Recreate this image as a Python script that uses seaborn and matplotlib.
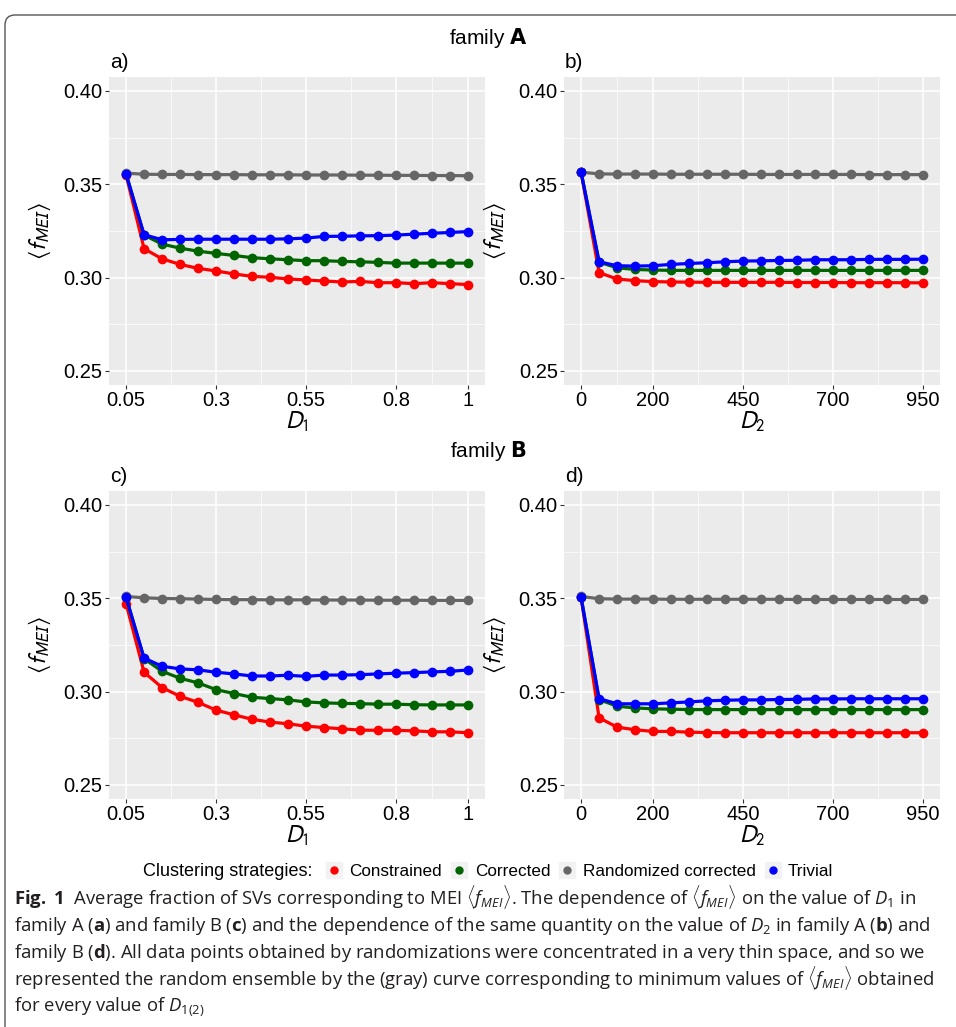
import pandas as pd
import matplotlib
matplotlib.use("Agg")
import matplotlib.pyplot as plt
import seaborn as sns
from matplotlib.lines import Line2D
from matplotlib.patches import FancyBboxPatch
from matplotlib.legend_handler import HandlerTuple
from matplotlib.transforms import IdentityTransform

# x values
d1 = [0.05, 0.10, 0.15, 0.20, 0.25, 0.30, 0.35, 0.40, 0.45, 0.50,
      0.55, 0.60, 0.65, 0.70, 0.75, 0.80, 0.85, 0.90, 0.95, 1.00]
d2 = [0, 50, 100, 150, 200, 250, 300, 350, 400, 450,
      500, 550, 600, 650, 700, 750, 800, 850, 900, 950]

# family A, vs D1
a_constrained = [0.3550, 0.3155, 0.3101, 0.3071, 0.3050, 0.3036, 0.3020, 0.3007, 0.3002, 0.2993,
                 0.2988, 0.2982, 0.2977, 0.2980, 0.2973, 0.2973, 0.2968, 0.2973, 0.2968, 0.2963]
a_corrected = [0.3555, 0.3228, 0.3180, 0.3158, 0.3142, 0.3130, 0.3119, 0.3107, 0.3101, 0.3096,
               0.3091, 0.3091, 0.3087, 0.3085, 0.3082, 0.3078, 0.3078, 0.3078, 0.3078, 0.3078]
a_random = [0.3560, 0.3554, 0.3553, 0.3553, 0.3552, 0.3552, 0.3552, 0.3551, 0.3551, 0.3551,
            0.3550, 0.3550, 0.3550, 0.3549, 0.3549, 0.3548, 0.3548, 0.3547, 0.3547, 0.3546]
a_trivial = [0.3555, 0.3230, 0.3203, 0.3205, 0.3206, 0.3206, 0.3206, 0.3206, 0.3206, 0.3208,
             0.3212, 0.3221, 0.3222, 0.3224, 0.3225, 0.3228, 0.3233, 0.3238, 0.3242, 0.3247]

# family A, vs D2
b_constrained = [0.3565, 0.3027, 0.2993, 0.2984, 0.2979, 0.2977, 0.2976, 0.2975, 0.2975, 0.2975,
                 0.2975, 0.2975, 0.2974, 0.2974, 0.2974, 0.2973, 0.2973, 0.2973, 0.2973, 0.2972]
b_corrected = [0.3565, 0.3083, 0.3053, 0.3044, 0.3041, 0.3039, 0.3039, 0.3039, 0.3039, 0.3039,
               0.3039, 0.3039, 0.3039, 0.3039, 0.3039, 0.3039, 0.3039, 0.3039, 0.3039, 0.3039]
b_random = [0.3565, 0.3556, 0.3555, 0.3555, 0.3555, 0.3554, 0.3554, 0.3554, 0.3554, 0.3554,
            0.3553, 0.3553, 0.3553, 0.3553, 0.3553, 0.3553, 0.3552, 0.3552, 0.3552, 0.3552]
b_trivial = [0.3565, 0.3085, 0.3064, 0.3062, 0.3064, 0.3071, 0.3076, 0.3080, 0.3085, 0.3089,
             0.3090, 0.3092, 0.3093, 0.3096, 0.3096, 0.3096, 0.3098, 0.3098, 0.3098, 0.3099]

# family B, vs D1
c_constrained = [0.3471, 0.3104, 0.3022, 0.2975, 0.2943, 0.2901, 0.2876, 0.2852, 0.2837, 0.2828,
                 0.2815, 0.2808, 0.2801, 0.2794, 0.2793, 0.2793, 0.2790, 0.2785, 0.2785, 0.2780]
c_corrected = [0.3505, 0.3177, 0.3109, 0.3072, 0.3047, 0.3011, 0.2990, 0.2970, 0.2963, 0.2956,
               0.2945, 0.2940, 0.2937, 0.2936, 0.2933, 0.2933, 0.2930, 0.2929, 0.2929, 0.2929]
c_random = [0.3510, 0.3503, 0.3499, 0.3498, 0.3496, 0.3494, 0.3493, 0.3493, 0.3492, 0.3492,
            0.3492, 0.3491, 0.3491, 0.3491, 0.3490, 0.3490, 0.3490, 0.3489, 0.3489, 0.3489]
c_trivial = [0.3505, 0.3180, 0.3136, 0.3122, 0.3117, 0.3104, 0.3095, 0.3084, 0.3084, 0.3088,
             0.3082, 0.3089, 0.3089, 0.3091, 0.3095, 0.3099, 0.3102, 0.3106, 0.3109, 0.3116]

# family B, vs D2
d_constrained = [0.3505, 0.2860, 0.2810, 0.2796, 0.2787, 0.2787, 0.2783, 0.2781, 0.2780, 0.2780,
                 0.2780, 0.2780, 0.2780, 0.2780, 0.2780, 0.2780, 0.2780, 0.2780, 0.2780, 0.2780]
d_corrected = [0.3505, 0.2958, 0.2922, 0.2913, 0.2908, 0.2906, 0.2904, 0.2904, 0.2904, 0.2904,
               0.2904, 0.2904, 0.2904, 0.2904, 0.2904, 0.2904, 0.2904, 0.2904, 0.2904, 0.2904]
d_random = [0.3510, 0.3498, 0.3496, 0.3496, 0.3496, 0.3495, 0.3495, 0.3495, 0.3495, 0.3495,
            0.3495, 0.3495, 0.3494, 0.3494, 0.3494, 0.3494, 0.3494, 0.3494, 0.3494, 0.3494]
d_trivial = [0.3505, 0.2963, 0.2935, 0.2935, 0.2935, 0.2940, 0.2945, 0.2951, 0.2954, 0.2956,
             0.2956, 0.2958, 0.2959, 0.2961, 0.2961, 0.2962, 0.2962, 0.2962, 0.2962, 0.2962]

strategies = ["Constrained", "Corrected", "Randomized corrected", "Trivial"]
colors = ["#FF0000", "#006400", "#666666", "#0000FF"]

y_ticks = [0.25, 0.30, 0.35, 0.40]
y_ticklabels = ["0.25", "0.30", "0.35", "0.40"]
d1_ticks = [0.05, 0.3, 0.55, 0.8, 1.0]
d1_ticklabels = ["0.05", "0.3", "0.55", "0.8", "1"]
d2_ticks = [0, 200, 450, 700, 950]
d2_ticklabels = ["0", "200", "450", "700", "950"]

W, H = 956, 1027
plt.rcParams["font.family"] = ["Liberation Sans", "DejaVu Sans"]
plt.rcParams["mathtext.fontset"] = "custom"
plt.rcParams["mathtext.rm"] = "Open Sans"
plt.rcParams["mathtext.it"] = "Open Sans:italic"
plt.rcParams["mathtext.bf"] = "Open Sans:bold"

fig = plt.figure(figsize=(W / 100, H / 100), dpi=100)


def make_ax(left, top, right, bottom):
    return fig.add_axes([left / W, 1 - bottom / H, (right - left) / W, (bottom - top) / H])


def panel(ax, x, series, xticks, xticklabels, xlabel, xlim, minor_x):
    df = pd.DataFrame({"x": x * 4,
                       "value": sum(series, []),
                       "strategy": [s for s in strategies for _ in x]})
    sns.lineplot(data=df, x="x", y="value", hue="strategy", hue_order=strategies,
                 palette=colors, marker="o", markersize=7, markeredgewidth=0,
                 linewidth=2.3, ax=ax, legend=False, zorder=3)
    ax.set_facecolor("#EBEBEB")
    for s in ax.spines.values():
        s.set_visible(False)
    ax.set_xlim(*xlim)
    ax.set_ylim(0.2425, 0.4075)
    ax.set_xticks(xticks)
    ax.set_xticklabels(xticklabels)
    ax.set_xticks(minor_x, minor=True)
    ax.set_yticks(y_ticks)
    ax.set_yticklabels(y_ticklabels)
    ax.set_yticks([0.275, 0.325, 0.375], minor=True)
    ax.grid(True, which="major", color="white", linewidth=1.1)
    ax.grid(True, which="minor", color="white", linewidth=0.5)
    ax.set_axisbelow(True)
    ax.tick_params(which="major", length=3, width=0.8, color="#333333",
                   labelsize=14.5, labelcolor="black", pad=1.5)
    ax.tick_params(which="minor", length=0)
    ax.set_xlabel(xlabel, fontsize=17, math_fontfamily="stixsans")
    ax.set_ylabel(r"$\langle f_{MEI}\rangle$", fontsize=17, math_fontfamily="stixsans")
    ax.yaxis.set_label_coords(-56 / 376, 0.5)
    ax.xaxis.set_label_coords(0.5, -25 / 308)


d1_lim = (0.0025, 1.0475)
d2_lim = (-47.5, 997.5)
d1_minor = [0.175, 0.425, 0.675, 0.9]
d2_minor = [100, 325, 575, 825]

ax_a = make_ax(109, 77, 485, 385)
panel(ax_a, d1, [a_constrained, a_corrected, a_random, a_trivial],
      d1_ticks, d1_ticklabels, r"$D_1$", d1_lim, d1_minor)
ax_b = make_ax(564, 77, 940, 385)
panel(ax_b, d2, [b_constrained, b_corrected, b_random, b_trivial],
      d2_ticks, d2_ticklabels, r"$D_2$", d2_lim, d2_minor)
ax_c = make_ax(109, 491, 485, 799)
panel(ax_c, d1, [c_constrained, c_corrected, c_random, c_trivial],
      d1_ticks, d1_ticklabels, r"$D_1$", d1_lim, d1_minor)
ax_d = make_ax(564, 491, 940, 799)
panel(ax_d, d2, [d_constrained, d_corrected, d_random, d_trivial],
      d2_ticks, d2_ticklabels, r"$D_2$", d2_lim, d2_minor)

# titles and panel tags
fig.text(488 / W, 1 - 38 / H, r"family $\mathbf{A}$", ha="center", va="center", fontsize=15,
         math_fontfamily="dejavusans")
fig.text(488 / W, 1 - 451 / H, r"family $\mathbf{B}$", ha="center", va="center", fontsize=15,
         math_fontfamily="dejavusans")
for tag, x, y in [("a)", 110, 62), ("b)", 565, 62), ("c)", 110, 477), ("d)", 565, 477)]:
    fig.text(x / W, 1 - y / H, tag, ha="left", va="center", fontsize=15)

# legend (light grey key square behind each dot)
fig.text(143 / W, 1 - 871 / H, "Clustering strategies:", ha="left", va="center", fontsize=13)
handles = [(Line2D([], [], color="#F2F2F2", marker="s", linestyle="none", markersize=12),
            Line2D([], [], color=c, marker="o", linestyle="none", markersize=5))
           for c in colors]
fig.legend(handles, strategies, loc="center left", bbox_to_anchor=(318 / W, 1 - 871 / H),
           ncol=4, frameon=False, fontsize=12.3, borderpad=0, handlelength=0.9,
           handleheight=1.0, handletextpad=0.45, columnspacing=0.55,
           handler_map={tuple: HandlerTuple(ndivide=1)})

# caption
caption = [
    r"$\mathbf{Fig.}$ $\mathbf{1}$  Average fraction of SVs corresponding to MEI $\langle f_{MEI}\rangle$. "
    r"The dependence of $\langle f_{MEI}\rangle$ on the value of $D_1$ in",
    r"family A ($\mathbf{a}$) and family B ($\mathbf{c}$) and the dependence of the same quantity "
    r"on the value of $D_2$ in family A ($\mathbf{b}$) and",
    r"family B ($\mathbf{d}$). All data points obtained by randomizations were concentrated in a "
    r"very thin space, and so we",
    r"represented the random ensemble by the (gray) curve corresponding to minimum values of "
    r"$\langle f_{MEI}\rangle$ obtained",
    r"for every value of $D_{1(2)}$",
]
for line, yb in zip(caption, [904, 931, 958, 985, 1011]):
    fig.text(14 / W, 1 - yb / H, line, ha="left", va="baseline", fontsize=13.3,
             family=["Open Sans", "DejaVu Sans"], color="#231F20")

# frame around the figure
fig.add_artist(FancyBboxPatch((5, -30), 1000, H - 10 + 30 - 5,
                              boxstyle="round,pad=0,rounding_size=10",
                              transform=IdentityTransform(), facecolor="none",
                              edgecolor="#555555", linewidth=1))

fig.savefig("out.png", dpi=100)
